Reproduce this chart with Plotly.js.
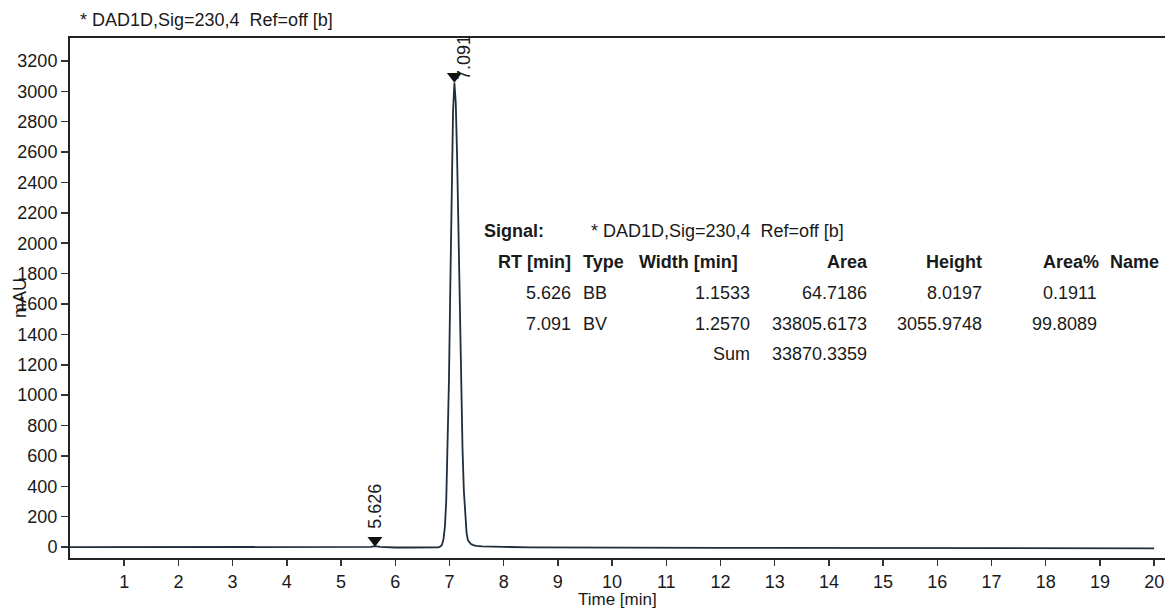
<!DOCTYPE html>
<html>
<head>
<meta charset="utf-8">
<script src="https://cdn.plot.ly/plotly-3.0.1.min.js"></script>
<style>html,body{margin:0;padding:0;background:#fff;}#chart{width:1166px;height:609px;}</style>
</head>
<body>
<div id="chart"></div>
<script>
// Chromatogram trace (time in min, signal in mAU)
const timeMin = [0, 0.5, 1, 1.5, 2, 2.4, 3, 3.5, 4, 4.5, 5, 5.3, 5.45, 5.55, 5.6, 5.626, 5.66, 5.72, 5.85, 6, 6.3, 6.6, 6.8,
  6.83, 6.86, 6.89, 6.916, 6.941, 6.966, 6.991, 7.016, 7.041, 7.066, 7.091, 7.116, 7.141, 7.166, 7.191, 7.216, 7.241, 7.266, 7.291, 7.316, 7.341, 7.39, 7.44, 7.49, 7.6, 7.8,
  8, 8.5, 9, 9.5, 10, 11, 12, 13, 14, 15, 16, 17, 18, 19, 20];
const signalMAU = [-1, -1, -1, -1.5, -1.5, -2, -2, -2, -2.5, -2.5, -2.5, -2.5, -2, 1, 4, 5.5, 4, 1, -2, -3, -3, -3, -2,
  3, 14, 52, 134, 308, 621, 1101, 1720, 2368, 2867, 3056, 2927, 2570, 2073, 1529, 1035, 645, 368, 194, 92, 45, 22, 13, 8, 5, 2,
  1, -2, -3, -3, -4, -4, -5, -5, -6, -6, -7, -7, -8, -8, -8];

// Peak markers
const peakRT = [5.626, 7.091];
const peakMarkY = [45, 3100];
const peakLabels = ["5.626", "7.091"];

// Integration table
const tableSignal = "* DAD1D,Sig=230,4  Ref=off [b]";
const colRT = ["5.626", "7.091", ""];
const colType = ["BB", "BV", ""];
const colWidth = ["1.1533", "1.2570", "Sum"];
const colArea = ["64.7186", "33805.6173", "33870.3359"];
const colHeight = ["8.0197", "3055.9748", ""];
const colAreaPct = ["0.1911", "99.8089", ""];
const headers = ["RT [min]", "Type", "Width [min]", "Area", "Height", "Area%", "Name"];

const xTicks = [1,2,3,4,5,6,7,8,9,10,11,12,13,14,15,16,17,18,19,20];
const yTicks = [0,200,400,600,800,1000,1200,1400,1600,1800,2000,2200,2400,2600,2800,3000,3200];

const FONT = "Liberation Sans, Arial, sans-serif";
const FS = 18;
const TXT = "#1a1a1a";
const LINE = "#1f2d3d";

// plot area in pixels
const L = 70, R = 1165, T = 38, B = 558;
const W = 1166, H = 609;
const px = x => (x - L) / (R - L);
const py = y => (B - y) / (B - T);

const annotations = [];
function addText(text, xPix, yPix, anchor, bold, angle, size) {
  annotations.push({
    xref: "paper", yref: "paper", x: px(xPix), y: py(yPix),
    xanchor: anchor, yanchor: "middle", showarrow: false,
    text: bold ? "<b>" + text + "</b>" : text,
    textangle: angle || 0,
    font: {family: FONT, size: size || FS, color: TXT}
  });
}

// title
addText(tableSignal, 78, 20, "left", false);
// axis titles
addText("mAU", 20, 298, "center", false, -90);
addText("Time [min]", 617, 599, "center", false, 0, 17);

// table
addText("Signal:", 482, 231, "left", true);
addText(tableSignal, 589, 231, "left", false);
const hdrY = 262;
addText(headers[0], 573, hdrY, "right", true);
addText(headers[1], 581, hdrY, "left", true);
addText(headers[2], 740, hdrY, "right", true);
addText(headers[3], 870, hdrY, "right", true);
addText(headers[4], 984, hdrY, "right", true);
addText(headers[5], 1101, hdrY, "right", true);
addText(headers[6], 1108, hdrY, "left", true);
const rowY = [293, 324, 354];
for (let i = 0; i < 3; i++) {
  if (colRT[i]) addText(colRT[i], 573, rowY[i], "right", false);
  if (colType[i]) addText(colType[i], 581, rowY[i], "left", false);
  if (colWidth[i]) addText(colWidth[i], 752, rowY[i], "right", false);
  if (colArea[i]) addText(colArea[i], 869, rowY[i], "right", false);
  if (colHeight[i]) addText(colHeight[i], 984, rowY[i], "right", false);
  if (colAreaPct[i]) addText(colAreaPct[i], 1099, rowY[i], "right", false);
}

// peak labels (rotated), anchored on the peak markers
annotations.push({xref: "x", yref: "y", x: peakRT[0], y: peakMarkY[0], xanchor: "center", yanchor: "bottom",
  yshift: 10, showarrow: false, text: peakLabels[0], textangle: -90, font: {family: FONT, size: FS, color: TXT}});
annotations.push({xref: "x", yref: "y", x: peakRT[1], y: peakMarkY[1], xanchor: "center", yanchor: "bottom",
  xshift: 9, yshift: -6, showarrow: false, text: peakLabels[1], textangle: -90, font: {family: FONT, size: FS, color: TXT}});

const data = [
  {x: timeMin, y: signalMAU, type: "scatter", mode: "lines", line: {color: LINE, width: 1.8}, hoverinfo: "skip"},
  {x: peakRT, y: peakMarkY, type: "scatter", mode: "markers",
   marker: {symbol: "triangle-down", size: 13, color: "#111"}, hoverinfo: "skip"}
];

const layout = {
  width: W, height: H,
  margin: {l: L, r: W - R, t: T, b: H - B, pad: 0},
  paper_bgcolor: "#fff", plot_bgcolor: "#fff",
  showlegend: false,
  font: {family: FONT, size: FS, color: TXT},
  xaxis: {
    range: [0, 20.2], tickvals: xTicks, ticktext: xTicks.map(String),
    ticks: "outside", ticklen: 6, tickwidth: 1.5, tickcolor: "#333",
    showline: true, linecolor: "#222", linewidth: 2, mirror: true,
    showgrid: false, zeroline: false,
    tickfont: {family: FONT, size: FS, color: TXT}
  },
  yaxis: {
    range: [-72, 3351], tickvals: yTicks, ticktext: yTicks.map(String),
    ticks: "outside", ticklen: 7, tickwidth: 1.5, tickcolor: "#333",
    showline: true, linecolor: "#222", linewidth: 2, mirror: false,
    showgrid: false, zeroline: false,
    tickfont: {family: FONT, size: FS, color: TXT}
  },
  annotations: annotations
};

Plotly.newPlot("chart", data, layout, {displayModeBar: false, staticPlot: true});
</script>
</body>
</html>
